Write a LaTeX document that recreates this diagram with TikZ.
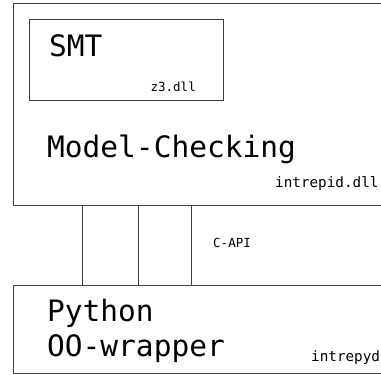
\documentclass[tikz,border=0pt]{standalone}
\usepackage{fontspec}
\setmonofont{DejaVu Sans Mono}
\begin{document}
\begin{tikzpicture}[x=1pt,y=1pt,
  boxstyle/.style={draw=black!75,line width=1pt,rectangle,anchor=north west,inner sep=0pt},
  bigtext/.style={font=\ttfamily\fontsize{29.5}{30}\selectfont,anchor=base west,inner sep=0pt},
  smalltext/.style={font=\ttfamily\fontsize{14.3}{15}\selectfont,inner sep=0pt},
  midtext/.style={font=\ttfamily\fontsize{12.5}{14}\selectfont,inner sep=0pt},
  link/.style={draw=black!75,line width=1pt}]
\useasboundingbox (0,0) rectangle (381,375);
\clip (0,0) rectangle (381,375);
\node[boxstyle,minimum width=385pt,minimum height=202pt] (mc) at (13,372) {};
\node[boxstyle,minimum width=194pt,minimum height=81pt] (smt) at (29,356) {};
\node[boxstyle,minimum width=385pt,minimum height=88pt] (py) at (13,90) {};
\node[bigtext] (smtlabel) at (49,318) {SMT};
\node[midtext,anchor=base east] (z3) at (196,283) {z3.dll};
\node[bigtext] (mclabel) at (47,217) {Model-Checking};
\node[smalltext,anchor=base west] (idll) at (275,187) {intrepid.dll};
\node[midtext,anchor=base west] (capi) at (213,127) {C-API};
\node[bigtext] (pylabel) at (47,53) {Python};
\node[bigtext] (oolabel) at (47,18) {OO-wrapper};
\node[smalltext,anchor=base west] (ipyd) at (311,13) {intrepyd};
\coordinate (l1) at (82,0);
\coordinate (l2) at (138,0);
\coordinate (l3) at (191,0);
\draw[link] (mc.south -| l1) -- (py.north -| l1);
\draw[link] (mc.south -| l2) -- (py.north -| l2);
\draw[link] (mc.south -| l3) -- (py.north -| l3);
\end{tikzpicture}
\end{document}
